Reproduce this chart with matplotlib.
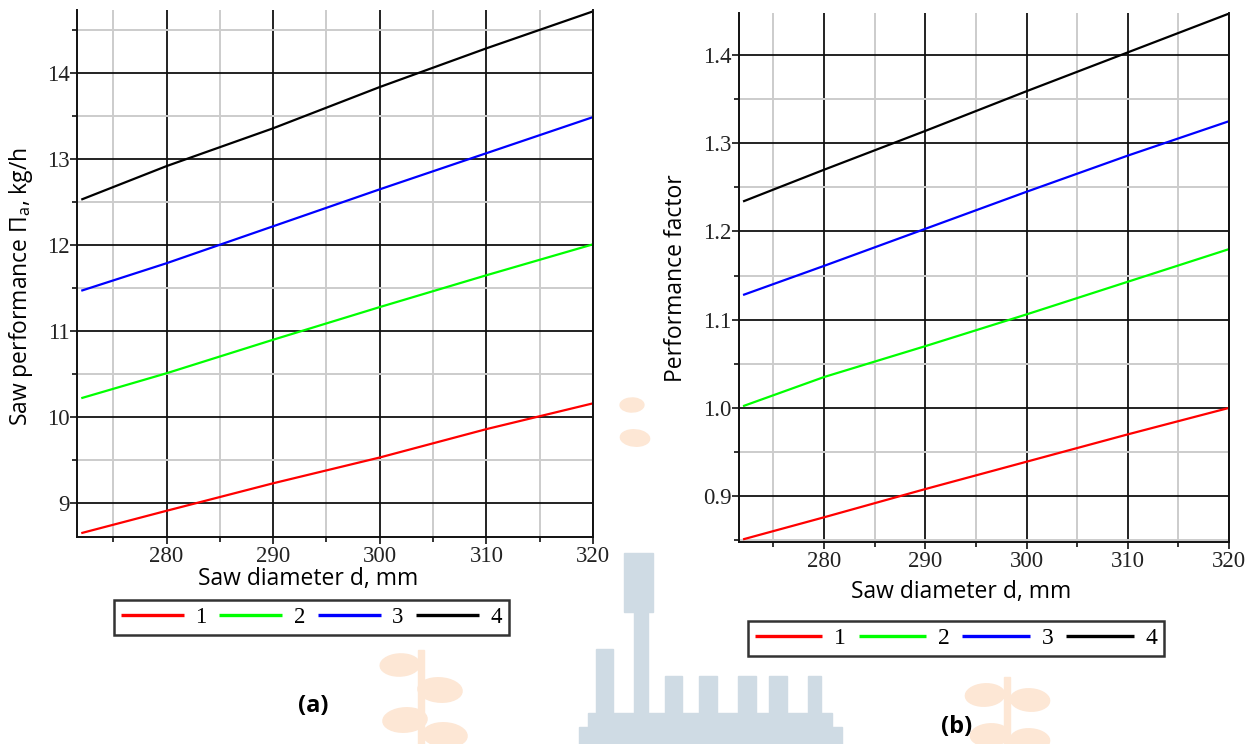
import numpy as np
import matplotlib.pyplot as plt
from matplotlib.ticker import MultipleLocator, FormatStrFormatter
from matplotlib.patches import Rectangle, Ellipse

# Saw diameter, mm
diameter = [272, 280, 290, 300, 310, 320]

# (a) saw performance, kg/h
perf_1 = [8.65, 8.91, 9.23, 9.53, 9.86, 10.16]
perf_2 = [10.22, 10.51, 10.90, 11.28, 11.65, 12.01]
perf_3 = [11.47, 11.79, 12.22, 12.65, 13.07, 13.49]
perf_4 = [12.53, 12.92, 13.36, 13.84, 14.29, 14.72]

# (b) performance factor
factor_1 = [0.851, 0.876, 0.908, 0.939, 0.970, 1.000]
factor_2 = [1.002, 1.035, 1.070, 1.106, 1.143, 1.180]
factor_3 = [1.128, 1.161, 1.203, 1.245, 1.286, 1.325]
factor_4 = [1.234, 1.270, 1.314, 1.359, 1.403, 1.447]

series_labels = ['1', '2', '3', '4']
series_colors = ['#ff0000', '#00ff00', '#0000ff', '#000000']

W, H = 1251, 744
fig = plt.figure(figsize=(W / 100, H / 100), dpi=100)

# faint page watermark behind the plots
wm_blue = '#cfdbe4'
wm_orange = '#fde7d5'
for (x0, y0, x1, y1) in [(624, 553, 653, 612), (634, 612, 648, 713), (596, 649, 613, 713),
                         (665, 676, 682, 713), (699, 676, 717, 713), (738, 676, 756, 713),
                         (769, 676, 787, 713), (808, 676, 821, 713), (588, 713, 832, 727),
                         (579, 727, 842, 744)]:
    fig.patches.append(Rectangle((x0 / W, 1 - y1 / H), (x1 - x0) / W, (y1 - y0) / H,
                                 transform=fig.transFigure, color=wm_blue, zorder=0))
for (cx, cy, w, h, ang) in [(400, 665, 40, 22, 20), (440, 690, 45, 24, -25), (405, 720, 45, 24, 25),
                            (445, 735, 45, 24, -25), (985, 695, 40, 22, 30), (1030, 700, 40, 22, -30),
                            (990, 735, 40, 22, 30), (1030, 740, 40, 22, -30),
                            (632, 405, 24, 14, 30), (635, 438, 30, 16, -30)]:
    fig.patches.append(Ellipse((cx / W, 1 - cy / H), w / W, h / H, angle=ang,
                               transform=fig.transFigure, color=wm_orange, zorder=0))
for (x0, y0, x1, y1) in [(418, 650, 424, 744), (1004, 677, 1010, 744)]:
    fig.patches.append(Rectangle((x0 / W, 1 - y1 / H), (x1 - x0) / W, (y1 - y0) / H,
                                 transform=fig.transFigure, color=wm_orange, zorder=0))

ax_a = fig.add_axes([77 / W, 1 - 537 / H, (593 - 77) / W, (537 - 10) / H])
ax_b = fig.add_axes([739 / W, 1 - 542 / H, (1229 - 739) / W, (542 - 12.7) / H])

tick_font = {'family': 'Liberation Serif', 'size': 16.5}
label_font = 'Open Sans'
label_size = 16.5


def style_axes(ax, ylim, ymajor, yminor, yfmt):
    ax.set_xlim(271.6, 320)
    ax.set_ylim(*ylim)
    ax.xaxis.set_major_locator(MultipleLocator(10))
    ax.xaxis.set_minor_locator(MultipleLocator(5))
    ax.yaxis.set_major_locator(MultipleLocator(ymajor))
    ax.yaxis.set_minor_locator(MultipleLocator(yminor))
    ax.yaxis.set_major_formatter(FormatStrFormatter(yfmt))
    ax.grid(which='minor', color='#cccccc', lw=1.4)
    ax.grid(which='major', color='#111111', lw=1.3)
    ax.set_axisbelow(True)
    ax.spines['top'].set_visible(False)
    for s in ['left', 'bottom', 'right']:
        ax.spines[s].set_linewidth(1.4)
        ax.spines[s].set_color('#111111')
    ax.tick_params(which='major', direction='out', length=5, width=1.2, pad=1.5,
                   color='#111111', labelcolor='#222222')
    ax.tick_params(which='minor', direction='out', length=3.5, width=1.2, color='#111111')
    ax.tick_params(axis='y', which='major', pad=0.5)
    for t in ax.get_xticklabels() + ax.get_yticklabels():
        t.set_fontfamily(tick_font['family'])
        t.set_fontsize(tick_font['size'])


# panel (a)
for vals, lab, col in zip([perf_1, perf_2, perf_3, perf_4], series_labels, series_colors):
    ax_a.plot(diameter, vals, color=col, lw=1.6, label=lab, solid_capstyle='butt')
style_axes(ax_a, (8.605, 14.736), 1, 0.5, '%d')
ax_a.set_xlabel('Saw diameter d, mm', fontfamily=label_font, fontsize=label_size)
ax_a.xaxis.set_label_coords(0.447, -0.08)
ax_a.xaxis.label.set_va('center')
ax_a.set_ylabel('Saw performance Π$_\\mathregular{a}$, kg/h', fontfamily=label_font, fontsize=label_size)
ax_a.yaxis.set_label_coords(-0.1085, 0.476)
ax_a.yaxis.label.set_va('center')

# panel (b)
for vals, lab, col in zip([factor_1, factor_2, factor_3, factor_4], series_labels, series_colors):
    ax_b.plot(diameter, vals, color=col, lw=1.6, label=lab, solid_capstyle='butt')
style_axes(ax_b, (0.848, 1.448), 0.1, 0.05, '%.1f')
ax_b.set_xlabel('Saw diameter d, mm', fontfamily=label_font, fontsize=label_size)
ax_b.xaxis.set_label_coords((961 - 739) / 490, (542 - 592) / 529.3)
ax_b.xaxis.label.set_va('center')
ax_b.set_ylabel('Performance factor', fontfamily=label_font, fontsize=label_size)
ax_b.yaxis.set_label_coords(-0.1286, 0.498)
ax_b.yaxis.label.set_va('center')

# legends below each panel
for ax, (cx, cy), fs, hl in [(ax_a, (311.5, 617.5), 16.5, 2.75), (ax_b, (956, 638.5), 17, 2.85)]:
    leg = ax.legend(loc='center', bbox_to_anchor=(cx / W, 1 - cy / H), bbox_transform=fig.transFigure,
                    ncol=4, frameon=True, fancybox=False, handlelength=hl, handletextpad=0.5,
                    columnspacing=0.55, borderpad=0.3, borderaxespad=0,
                    prop={'family': 'Liberation Serif', 'size': fs})
    leg.get_frame().set_edgecolor('black')
    leg.get_frame().set_linewidth(1.8)
    for line in leg.get_lines():
        line.set_linewidth(2.4)

fig.text(313 / W, 1 - 706 / H, '(a)', ha='center', va='center', fontfamily=label_font,
         fontweight='bold', fontsize=17)
fig.text(957 / W, 1 - 727 / H, '(b)', ha='center', va='center', fontfamily=label_font,
         fontweight='bold', fontsize=17)

fig.savefig('out.png', dpi=100)
